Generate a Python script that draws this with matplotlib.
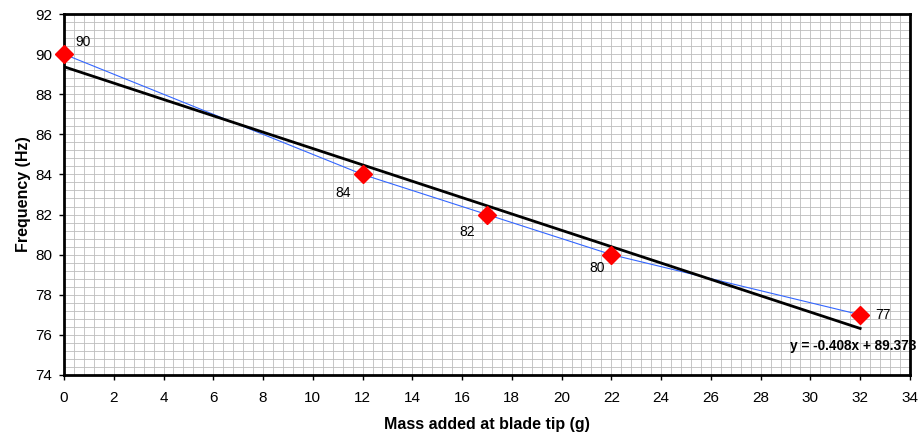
import numpy as np
import matplotlib.pyplot as plt
from matplotlib.ticker import MultipleLocator

plt.rcParams['font.family'] = ['Liberation Sans', 'DejaVu Sans']

# data
mass = [0, 12, 17, 22, 32]
freq = [90, 84, 82, 80, 77]
point_labels = ['90', '84', '82', '80', '77']

# linear trend
slope, intercept = np.polyfit(mass, freq, 1)
xfit = np.array([min(mass), max(mass)])
yfit = slope * xfit + intercept

fig = plt.figure(figsize=(9.18, 4.4), dpi=100)
ax = fig.add_axes([0.0697, 0.148, 0.9215, 0.820])

ax.set_xlim(0, 34)
ax.set_ylim(74, 92)
ax.xaxis.set_major_locator(MultipleLocator(2))
ax.yaxis.set_major_locator(MultipleLocator(2))
ax.xaxis.set_minor_locator(MultipleLocator(0.4))
ax.yaxis.set_minor_locator(MultipleLocator(0.4))
ax.grid(which='both', color='#bdbdbd', linewidth=0.6)
ax.set_axisbelow(True)
ax.tick_params(which='minor', length=0)
ax.tick_params(axis='x', which='major', direction='out', length=3.5, width=1, pad=8, labelsize=11)
ax.tick_params(axis='y', which='major', direction='out', length=3.5, width=1, pad=5, labelsize=11)
for s in ax.spines.values():
    s.set_linewidth(2)
    s.set_color('black')

ax.plot(mass, freq, color='#3366ff', linewidth=0.8, zorder=3)
ax.plot(xfit, yfit, color='black', linewidth=2, zorder=4)
ax.plot(mass, freq, linestyle='none', marker='D', markersize=9,
        color='red', zorder=5, clip_on=False)

# label offsets in pixels (dx, dy) from each marker
offsets = [(19, 12), (-19, -19), (-20, -17), (-14, -13), (23, 0)]
for x, y, t, (dx, dy) in zip(mass, freq, point_labels, offsets):
    ax.annotate(t, (x, y), xytext=(dx * 0.72, dy * 0.72), textcoords='offset points',
                ha='center', va='center', fontsize=10)

ax.annotate('y = %.3fx + %.3f' % (slope, intercept), (32, yfit[-1]),
            xytext=(-5, -12.5), textcoords='offset points', ha='center', va='center',
            fontsize=9.8, fontweight='bold', annotation_clip=False, zorder=6)

ax.set_xlabel('Mass added at blade tip (g)', fontsize=11.5, fontweight='bold', labelpad=9)
ax.set_ylabel('Frequency (Hz)', fontsize=11.5, fontweight='bold', labelpad=3)

fig.savefig('out.png', dpi=100)
